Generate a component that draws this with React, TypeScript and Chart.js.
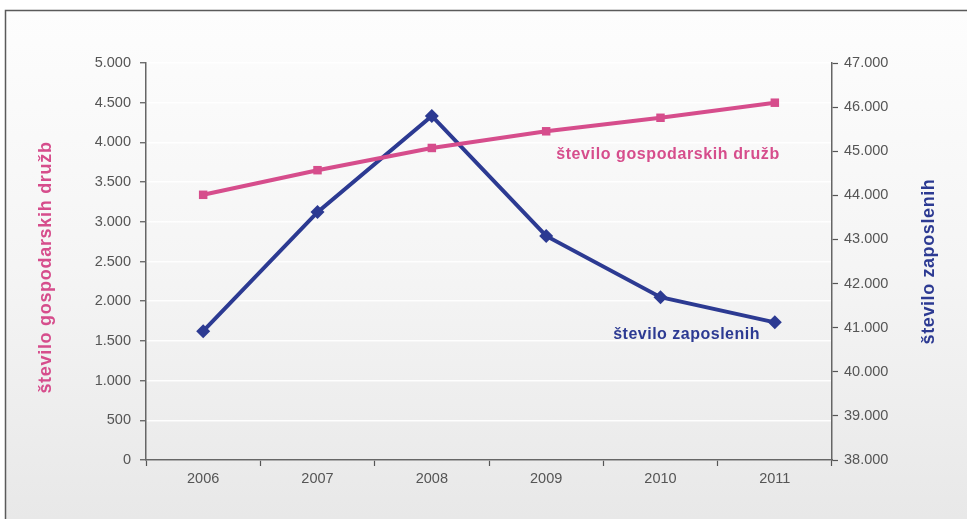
import React, { useEffect, useRef } from "react";
import { Chart, registerables } from "chart.js";
Chart.register(...registerables);

const years = ["2006", "2007", "2008", "2009", "2010", "2011"];
const companies = [3340, 3650, 3930, 4140, 4310, 4500];
const employees = [40920, 43620, 45800, 43080, 41690, 41120];
const leftTicks = { min: 0, max: 5000, step: 500 };
const rightTicks = { min: 38000, max: 47000, step: 1000 };
const leftTitle = "število gospodarskih družb";
const rightTitle = "število zaposlenih";
const companiesLabel = "število gospodarskih družb";
const employeesLabel = "število zaposlenih";

const PINK = "#d64d8c";
const BLUE = "#2c3a92";
const FONT = "'Liberation Sans', Arial, sans-serif";

const fmt = (v: number) => String(v).replace(/\B(?=(\d{3})+(?!\d))/g, ".");

const framePlugin = {
  id: "frame",
  beforeDraw(chart: any) {
    const { ctx, width, height } = chart;
    ctx.save();
    ctx.fillStyle = "#ffffff";
    ctx.fillRect(0, 0, width, height);
    const g = ctx.createLinearGradient(0, 10, 0, height);
    g.addColorStop(0, "#fdfdfd");
    g.addColorStop(0.5, "#f5f5f5");
    g.addColorStop(1, "#e8e8e8");
    ctx.fillStyle = g;
    ctx.fillRect(5, 10, width, height);
    ctx.strokeStyle = "#5a5a5a";
    ctx.lineWidth = 1.5;
    ctx.strokeRect(5.5, 10.5, width + 10, height + 10);
    ctx.restore();
  },
};

const textPlugin = {
  id: "texts",
  afterDraw(chart: any) {
    const { ctx, scales, chartArea } = chart;
    const x = scales.x;
    const yl = scales.yLeft;
    const yr = scales.yRight;
    ctx.save();
    const cy = (chartArea.top + chartArea.bottom) / 2;
    ctx.textAlign = "center";
    ctx.textBaseline = "middle";
    ctx.font = `bold 18px ${FONT}`;
    (ctx as any).letterSpacing = "0.7px";
    ctx.fillStyle = PINK;
    ctx.save();
    ctx.translate(46, cy + 6);
    ctx.rotate(-Math.PI / 2);
    ctx.fillText(leftTitle, 0, 0);
    ctx.restore();
    ctx.font = `bold 18px ${FONT}`;
    (ctx as any).letterSpacing = "0.6px";
    ctx.fillStyle = BLUE;
    ctx.save();
    ctx.translate(929, cy);
    ctx.rotate(-Math.PI / 2);
    ctx.fillText(rightTitle, 0, 0);
    ctx.restore();
    ctx.textAlign = "left";
    ctx.font = `bold 16px ${FONT}`;
    (ctx as any).letterSpacing = "0.6px";
    ctx.fillStyle = PINK;
    ctx.fillText(companiesLabel, x.getPixelForValue(3) + 10, yl.getPixelForValue(3850));
    ctx.fillStyle = BLUE;
    (ctx as any).letterSpacing = "0.5px";
    ctx.fillText(employeesLabel, x.getPixelForValue(3) + 67, yr.getPixelForValue(40850));
    ctx.restore();
  },
};

export default function App() {
  const ref = useRef<HTMLCanvasElement>(null);
  useEffect(() => {
    document.body.style.margin = "0";
    const chart = new Chart(ref.current!, {
      type: "line",
      data: {
        labels: years,
        datasets: [
          {
            label: companiesLabel,
            data: companies,
            yAxisID: "yLeft",
            borderColor: PINK,
            backgroundColor: PINK,
            borderWidth: 4,
            pointStyle: "rect",
            pointRadius: 6,
            pointBorderWidth: 0,
            tension: 0,
          },
          {
            label: employeesLabel,
            data: employees,
            yAxisID: "yRight",
            borderColor: BLUE,
            backgroundColor: BLUE,
            borderWidth: 4,
            pointStyle: "rectRot",
            pointRadius: 7,
            pointBorderWidth: 0,
            tension: 0,
          },
        ],
      },
      options: {
        responsive: false,
        animation: false,
        devicePixelRatio: 1,
        layout: { padding: { top: 63, left: 0, right: 0, bottom: 0 } },
        plugins: { legend: { display: false }, tooltip: { enabled: false } },
        scales: {
          x: {
            offset: true,
            grid: { offset: true, drawOnChartArea: false, tickLength: 6, tickColor: "#555", tickWidth: 1.2 },
            border: { color: "#666", width: 1.5 },
            ticks: { color: "#555", font: { family: FONT, size: 14.5 }, padding: 4 },
            afterFit: (s: any) => { s.height = 59; },
          },
          yLeft: {
            position: "left",
            min: leftTicks.min,
            max: leftTicks.max,
            ticks: {
              stepSize: leftTicks.step,
              color: "#555",
              font: { family: FONT, size: 14.5 },
              padding: 9,
              callback: (v: any) => fmt(Number(v)),
            },
            grid: { color: "rgba(255,255,255,0.9)", lineWidth: 1.5, tickColor: "#555", tickLength: 6, tickWidth: 1.2 },
            border: { color: "#666", width: 1.5 },
            afterFit: (s: any) => { s.width = 146; },
          },
          yRight: {
            position: "right",
            min: rightTicks.min,
            max: rightTicks.max,
            ticks: {
              stepSize: rightTicks.step,
              color: "#555",
              font: { family: FONT, size: 14.5 },
              padding: 6,
              callback: (v: any) => fmt(Number(v)),
            },
            grid: { drawOnChartArea: false, tickColor: "#555", tickLength: 6, tickWidth: 1.2 },
            border: { color: "#666", width: 1.5 },
            afterFit: (s: any) => { s.width = 135; },
          },
        },
      },
      plugins: [framePlugin, textPlugin],
    });
    return () => chart.destroy();
  }, []);
  return (
    <div style={{ width: 967, height: 519 }}>
      <canvas ref={ref} width={967} height={519} style={{ display: "block" }} />
    </div>
  );
}
